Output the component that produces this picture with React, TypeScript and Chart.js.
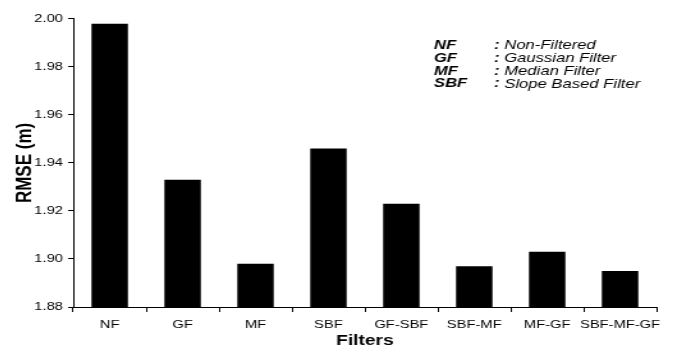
import React, { useEffect, useRef } from 'react';
import { Chart, registerables } from 'chart.js';

Chart.register(...registerables);

const categories = ['NF', 'GF', 'MF', 'SBF', 'GF-SBF', 'SBF-MF', 'MF-GF', 'SBF-MF-GF'];
const rmseValues = [1.998, 1.933, 1.898, 1.946, 1.923, 1.897, 1.903, 1.895];
const yMin = 1.88;
const yMax = 2.0;
const yStep = 0.02;
const legendKeys = ['NF', 'GF', 'MF', 'SBF'];
const legendDescs = ['Non-Filtered', 'Gaussian Filter', 'Median Filter', 'Slope Based Filter'];
const yAxisTitle = 'RMSE (m)';
const xAxisTitle = 'Filters';

const FONT = '"Liberation Sans", Arial, Helvetica, sans-serif';
const W = 516;
const H = 343;
const SX = 660 / W;

const legendPlugin = {
  id: 'textLegend',
  afterDraw(chart: any) {
    const ctx = chart.ctx;
    ctx.save();
    ctx.fillStyle = '#000';
    ctx.textBaseline = 'middle';
    ctx.textAlign = 'left';
    legendKeys.forEach((k, i) => {
      const y = 37.5 + i * 12.8;
      ctx.font = `italic bold 13px ${FONT}`;
      ctx.fillText(k, 333, y);
      ctx.fillText(':', 380, y);
      ctx.font = `italic 13px ${FONT}`;
      ctx.fillText(legendDescs[i], 388, y);
    });
    ctx.restore();
  },
};

export default function App() {
  const ref = useRef<HTMLCanvasElement>(null);
  useEffect(() => {
    if (!ref.current) return;
    const chart = new Chart(ref.current, {
      type: 'bar',
      data: {
        labels: categories,
        datasets: [
          {
            data: rmseValues,
            backgroundColor: '#000',
            borderWidth: 0,
            barPercentage: 0.5,
            categoryPercentage: 1,
          },
        ],
      },
      options: {
        responsive: false,
        animation: false,
        devicePixelRatio: 1,
        layout: { padding: { top: 8, right: 3, left: 0, bottom: 0 } },
        plugins: { legend: { display: false }, tooltip: { enabled: false } },
        scales: {
          x: {
            afterFit: (s: any) => { s.height = 44; },
            grid: { drawOnChartArea: false, drawTicks: true, tickLength: 5, color: '#000', offset: true },
            border: { display: true, color: '#000', width: 1 },
            ticks: { color: '#000', font: { family: FONT, size: 11.5 }, padding: 6, maxRotation: 0, autoSkip: false },
            title: {
              display: true,
              text: xAxisTitle,
              color: '#000',
              font: { family: FONT, size: 15, weight: 'bold' },
              padding: { top: 0, bottom: 1 },
            },
          },
          y: {
            min: yMin,
            max: yMax,
            afterFit: (s: any) => { s.width = 51; },
            grid: { drawOnChartArea: false, drawTicks: true, tickLength: 4, color: '#000' },
            border: { display: true, color: '#000', width: 1 },
            ticks: {
              stepSize: yStep,
              color: '#000',
              font: { family: FONT, size: 11.5 },
              padding: 4,
              callback: (v: any) => Number(v).toFixed(2),
            },
            title: {
              display: true,
              text: yAxisTitle,
              color: '#000',
              font: { family: FONT, size: 17, weight: 'bold' },
              padding: { top: 3, bottom: 0 },
            },
          },
        },
      },
      plugins: [legendPlugin],
    });
    return () => chart.destroy();
  }, []);
  return (
    <div style={{ width: 660, height: H, overflow: 'hidden' }}>
      <canvas
        ref={ref}
        width={W}
        height={H}
        style={{ display: 'block', transform: `scaleX(${SX})`, transformOrigin: '0 0' }}
      />
    </div>
  );
}
